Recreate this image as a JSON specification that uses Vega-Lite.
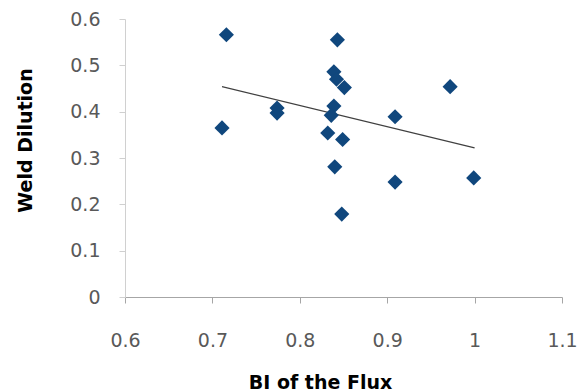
{
  "$schema": "https://vega.github.io/schema/vega-lite/v6.json",
  "width": 437,
  "height": 278,
  "autosize": {"type": "none"},
  "padding": {"left": 125, "top": 19, "right": 24, "bottom": 94},
  "background": "white",
  "config": {"view": {"stroke": null}},
  "datasets": {
    "points": [
      {"bi": 0.716, "dilution": 0.566},
      {"bi": 0.711, "dilution": 0.365},
      {"bi": 0.774, "dilution": 0.408},
      {"bi": 0.774, "dilution": 0.397},
      {"bi": 0.843, "dilution": 0.555},
      {"bi": 0.839, "dilution": 0.486},
      {"bi": 0.842, "dilution": 0.470},
      {"bi": 0.851, "dilution": 0.452},
      {"bi": 0.839, "dilution": 0.412},
      {"bi": 0.836, "dilution": 0.392},
      {"bi": 0.832, "dilution": 0.354},
      {"bi": 0.849, "dilution": 0.340},
      {"bi": 0.840, "dilution": 0.281},
      {"bi": 0.848, "dilution": 0.179},
      {"bi": 0.909, "dilution": 0.389},
      {"bi": 0.909, "dilution": 0.248},
      {"bi": 0.972, "dilution": 0.454},
      {"bi": 0.999, "dilution": 0.257}
    ],
    "trend": [
      {"bi": 0.711, "dilution": 0.454},
      {"bi": 1.0, "dilution": 0.322}
    ]
  },
  "encoding": {
    "x": {
      "field": "bi", "type": "quantitative",
      "scale": {"domain": [0.6, 1.1], "nice": false, "zero": false},
      "axis": {
        "title": "BI of the Flux",
        "values": [0.6, 0.7, 0.8, 0.9, 1, 1.1],
        "format": "~g",
        "grid": false,
        "labelFlush": false,
        "labelOverlap": false,
        "domainColor": "#a6a6a6",
        "tickColor": "#a6a6a6",
        "tickSize": 6,
        "labelPadding": 28,
        "labelFont": "DejaVu Sans",
        "labelFontSize": 19,
        "labelColor": "#595959",
        "titleFont": "DejaVu Sans",
        "titleFontWeight": "bold",
        "titleFontSize": 19,
        "titleColor": "#000000",
        "titleX": 195,
        "titleY": 91,
        "titleBaseline": "alphabetic"
      }
    },
    "y": {
      "field": "dilution", "type": "quantitative",
      "scale": {"domain": [0, 0.6], "nice": false},
      "axis": {
        "title": "Weld Dilution",
        "values": [0, 0.1, 0.2, 0.3, 0.4, 0.5, 0.6],
        "format": "~g",
        "grid": false,
        "labelFlush": false,
        "labelOverlap": false,
        "domainColor": "#d0d0d0",
        "tickColor": "#d0d0d0",
        "tickSize": 6,
        "labelPadding": 19,
        "labelFont": "DejaVu Sans",
        "labelFontSize": 19,
        "labelColor": "#595959",
        "titleFont": "DejaVu Sans",
        "titleFontWeight": "bold",
        "titleFontSize": 19,
        "titleColor": "#000000",
        "titleX": -100,
        "titleY": 121,
        "titleBaseline": "middle"
      }
    }
  },
  "layer": [
    {
      "data": {"name": "trend"},
      "mark": {"type": "line", "color": "#404040", "strokeWidth": 1.2}
    },
    {
      "data": {"name": "points"},
      "mark": {"type": "point", "shape": "diamond", "filled": true, "size": 230, "color": "#10477d", "opacity": 1}
    }
  ]
}
